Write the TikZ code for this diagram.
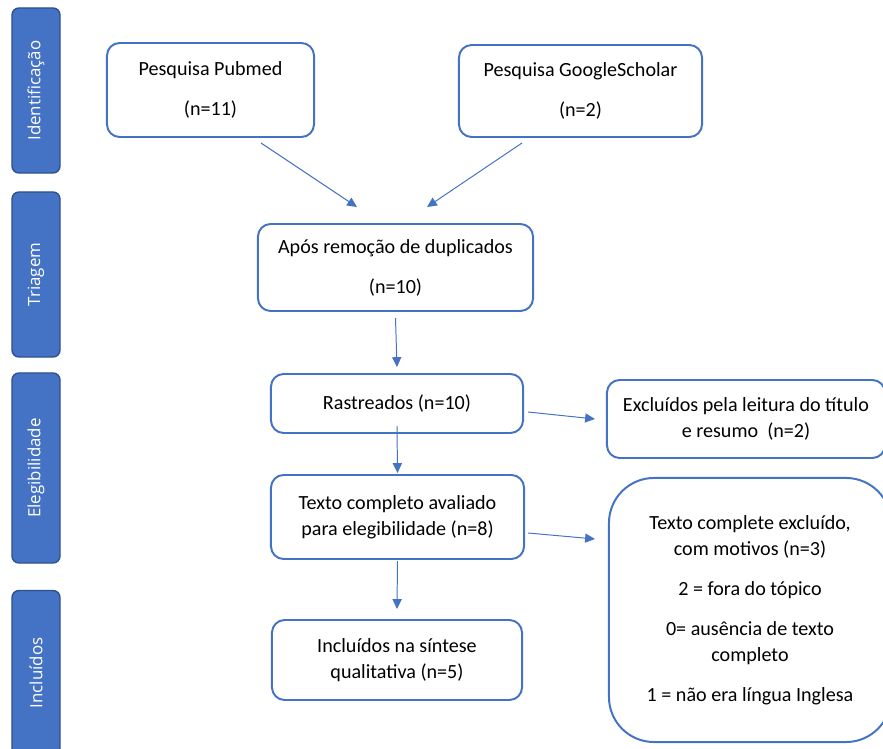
\documentclass[tikz,border=0pt]{standalone}
\usepackage{fontspec}
\setmainfont{Carlito}
\newfontfamily\tabfont{Open Sans}
\usetikzlibrary{arrows.meta}
\definecolor{boxBlue}{HTML}{4472C4}
\definecolor{tabEdge}{HTML}{2F528F}
\begin{document}
\begin{tikzpicture}[x=0.025cm, y=-0.025cm,
        box/.style={draw=boxBlue, line width=1.4pt, rounded corners=9pt, align=center,
            inner sep=0pt, font=\fontsize{14.3}{18.5}\selectfont},
        stageTab/.style={draw=tabEdge, fill=boxBlue, line width=1pt, rounded corners=5pt,
            minimum width=1.2cm, align=center, inner sep=0pt},
        tabText/.style={rotate=90, text=white, font=\tabfont\fontsize{12}{14}\selectfont},
        flowArrow/.style={draw=boxBlue, line width=0.7pt, -{Triangle[length=7pt,width=6.5pt]}}]
        \clip (0,0) rectangle (883,749);

        \node[stageTab, minimum height=4.125cm] (tabIdent) at (36,90.5) {};
        \node[tabText] at (tabIdent) {Identificação};
        \node[stageTab, minimum height=4.125cm] (tabTriagem) at (36,274.5) {};
        \node[tabText] at (tabTriagem) {Triagem};
        \node[stageTab, minimum height=4.75cm] (tabEleg) at (36,468) {};
        \node[tabText] at (tabEleg) {Elegibilidade};
        \node[stageTab, minimum height=4.125cm] (tabIncl) at (36,673) {};
        \node[tabText] at (tabIncl) {Incluídos};

        \node[box, minimum width=5.175cm, minimum height=2.35cm] (pubmed) at (210.5,90) {
            Pesquisa Pubmed\\[10pt]
            (n=11)
        };
        \node[box, minimum width=6.075cm, minimum height=2.3cm] (google) at (580.5,91) {
            Pesquisa GoogleScholar\\[10pt]
            (n=2)
        };
        \node[box, minimum width=6.875cm, minimum height=2.175cm] (apos) at (395.5,267.5) {
            Após remoção de duplicados\\[10pt]
            (n=10)
        };
        \node[box, minimum width=6.3cm, minimum height=1.475cm] (rastreados) at (397,403.5) {Rastreados (n=10)};
        \node[box, minimum width=6.325cm, minimum height=2.1cm] (avaliado) at (397.5,517) {
            Texto completo avaliado\\
            para elegibilidade (n=8)
        };
        \node[box, minimum width=6.25cm, minimum height=2cm] (incluidos) at (397,660) {
            Incluídos na síntese\\
            qualitativa (n=5)
        };
        \node[box, minimum width=6.95cm, minimum height=1.95cm] (excl1) at (746,419) {
            Excluídos pela leitura do título\\
            e resumo\ \ (n=2)
        };
        \node[box, rounded corners=32pt, minimum width=7.05cm, minimum height=6.6cm] (excl2) at (750,610) {
            Texto complete excluído,\\
            com motivos (n=3)\\[10pt]
            2 = fora do tópico\\[10pt]
            0= ausência de texto\\
            completo\\[10pt]
            1 = não era língua Inglesa
        };

        \draw[flowArrow] ([shift={(50.5,5)}]pubmed.south) -- ([shift={(-38.5,-16)}]apos.north);
        \draw[flowArrow] ([shift={(-58.5,5)}]google.south) -- ([shift={(31.5,-16)}]apos.north);
        \draw[flowArrow] ([shift={(0,6)}]apos.south) -- ([shift={(0,-6)}]rastreados.north);
        \draw[flowArrow] ([shift={(0,-8)}]rastreados.south) -- ([shift={(0,-1)}]avaliado.north);
        \draw[flowArrow] ([shift={(0,1)}]avaliado.south) -- ([shift={(0,-10)}]incluidos.north);
        \draw[flowArrow] ([shift={(4,8.5)}]rastreados.east) -- ([shift={(-11,0)}]excl1.west);
        \draw[flowArrow] ([shift={(3,16)}]avaliado.east) -- ([shift={(-13,-71)}]excl2.west);
    \end{tikzpicture}
\end{document}
